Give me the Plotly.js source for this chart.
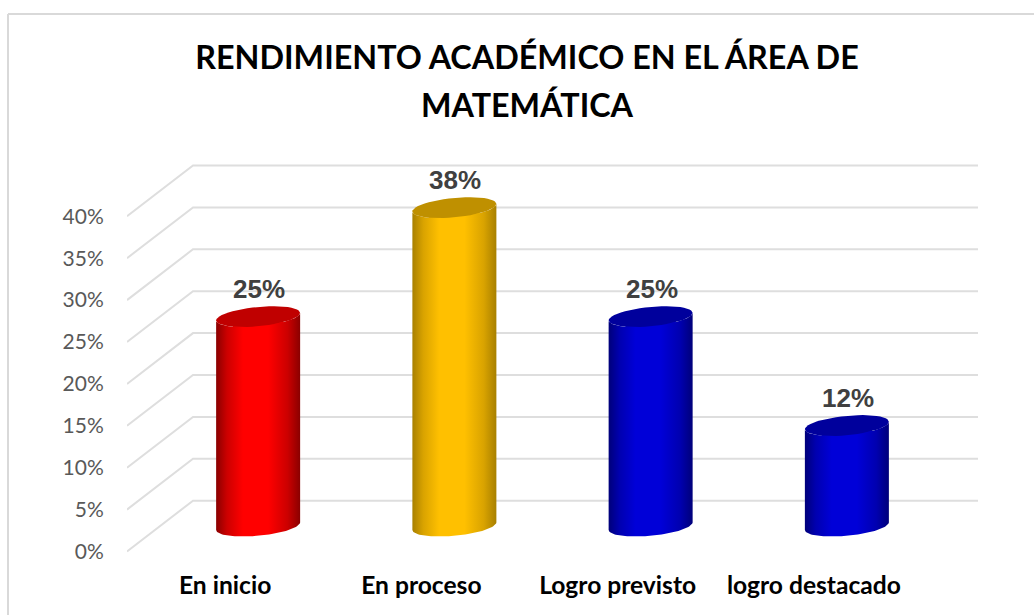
<!DOCTYPE html>
<html><head><meta charset="utf-8">
<script src="https://cdn.plot.ly/plotly-3.0.1.min.js"></script>
<style>html,body{margin:0;padding:0;background:#fff}#c{width:1034px;height:615px}</style>
</head><body><div id="c"></div>
<script>
const categories = ['En inicio','En proceso','Logro previsto','logro destacado'];
const values = [25,38,25,12];
const valueLabels = ['25%','38%','25%','12%'];
const yTicks = [0,5,10,15,20,25,30,35,40];
const bodyEdge = ['#8a0000','#a88000','#00007a','#00007a'];
const bodyMid = ['#cc0000','#d9a300','#0000b0','#0000b0'];
const bodyBright = ['#ff0000','#ffc000','#0000d8','#0000d8'];
const topColor = ['#c00000','#bf9000','#00009c','#00009c'];

const W=1034,H=615,L=127,R=978,T=150,B=555;
const pxPerCat=196.25, pxPerVal=8.38;
const xMin=-0.5, xMax=xMin+(R-L)/pxPerCat;
const y0Px=551.5;
const yMin=(y0Px-B)/pxPerVal, yMax=(y0Px-T)/pxPerVal;
const depthX=66/pxPerCat, depthV=50.8/pxPerVal;
const a=42/pxPerCat, s=3.8/pxPerVal, b=9.7/pxPerVal;

const traces=[];
const gx=[],gy=[];
yTicks.forEach(v=>{gx.push(xMin,xMin+depthX,xMax,null);gy.push(v,v+depthV,v+depthV,null);});
traces.push({type:'scatter',mode:'lines',x:gx,y:gy,line:{color:'#dedede',width:2},hoverinfo:'skip',showlegend:false});

const cx=categories.map((c,i)=>i+depthX/2);
const vOff=depthV/2;
traces.push({type:'bar',x:cx,y:values,base:vOff,width:a*1.2,marker:{color:bodyBright},hoverinfo:'skip',showlegend:false});

function ell(c,v,t){return [c+a*Math.cos(t), v+s*Math.cos(t)-b*Math.sin(t)];}
const N=48;
categories.forEach((n,i)=>{
  const c=cx[i], top=vOff+values[i], bot=vOff;
  const bx=[],by=[];
  for(let k=0;k<=N;k++){const p=ell(c,bot,Math.PI-k/N*Math.PI);bx.push(p[0]);by.push(p[1]);}
  for(let k=N;k>=0;k--){const p=ell(c,top,Math.PI-k/N*Math.PI);bx.push(p[0]);by.push(p[1]);}
  traces.push({type:'scatter',mode:'lines',x:bx,y:by,fill:'toself',line:{width:0,color:bodyEdge[i]},
    fillgradient:{type:'horizontal',colorscale:[[0,bodyEdge[i]],[0.13,bodyMid[i]],[0.32,bodyBright[i]],[0.62,bodyBright[i]],[0.85,bodyMid[i]],[1,bodyEdge[i]]]},
    hoverinfo:'skip',showlegend:false,name:n});
  const tx=[],ty=[];
  for(let k=0;k<=N;k++){const p=ell(c,top,k/N*2*Math.PI);tx.push(p[0]);ty.push(p[1]);}
  traces.push({type:'scatter',mode:'lines',x:tx,y:ty,fill:'toself',fillcolor:topColor[i],line:{width:0,color:topColor[i]},hoverinfo:'skip',showlegend:false});
});

const labels=categories.map((c,i)=>({x:cx[i],y:values[i]+vOff,xref:'x',yref:'y',text:'<b>'+valueLabels[i]+'</b>',showarrow:false,
  yanchor:'middle',yshift:27.5,xshift:1,font:{family:'Liberation Sans',size:26,color:'#404040'}}));

const layout={
  width:W,height:H,margin:{l:L,r:W-R,t:T,b:H-B,pad:0},
  paper_bgcolor:'#fff',plot_bgcolor:'rgba(0,0,0,0)',showlegend:false,
  title:{text:'<span style="font-size:32.3px"><b>RENDIMIENTO ACADÉMICO EN EL ÁREA DE</b></span><br><span style="font-size:32.3px"><b>MATEMÁTICA</b></span>',font:{family:'Lato',size:37,color:'#000'},
    x:527/W,xanchor:'center',y:1-69/H,yanchor:'top'},
  xaxis:{range:[xMin,xMax],tickmode:'array',tickvals:categories.map((c,i)=>i),ticktext:categories.map(c=>'<b>'+c+'</b>'),
    showgrid:false,zeroline:false,showline:false,ticks:'outside',ticklen:8,tickcolor:'rgba(0,0,0,0)',
    tickfont:{family:'Lato',size:24.6,color:'#000'}},
  yaxis:{range:[yMin,yMax],tickmode:'array',tickvals:yTicks,ticktext:yTicks.map(v=>v+'%'),showgrid:false,zeroline:false,showline:false,
    ticks:'outside',ticklen:18,tickcolor:'rgba(0,0,0,0)',tickfont:{family:'Lato',size:21,color:'#595959'}},
  annotations:labels,
  shapes:[{type:'line',xref:'paper',yref:'paper',x0:(8-L)/(R-L),x1:(8-L)/(R-L),y0:(B-H)/(B-T),y1:(B-14)/(B-T),line:{color:'#d9d9d9',width:2}},
          {type:'line',xref:'paper',yref:'paper',x0:(8-L)/(R-L),x1:(W-L)/(R-L),y0:(B-14)/(B-T),y1:(B-14)/(B-T),line:{color:'#d9d9d9',width:2}}]
};
Plotly.newPlot('c',traces,layout,{displayModeBar:false,staticPlot:true});
</script></body></html>
